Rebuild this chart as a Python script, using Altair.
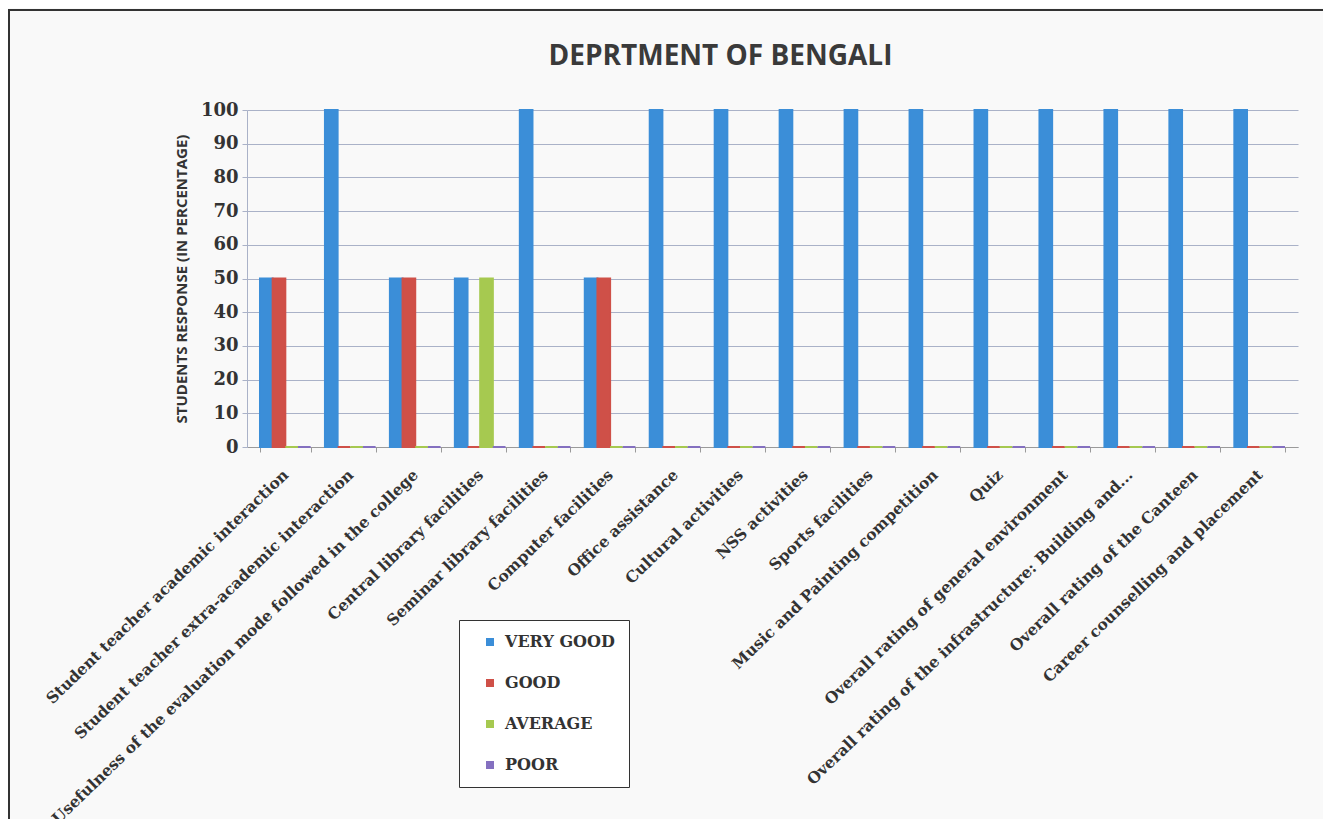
import altair as alt
import pandas as pd

categories = [
    "Student teacher academic interaction",
    "Student teacher extra-academic interaction",
    "Usefulness of the evaluation mode followed in the college",
    "Central library facilities",
    "Seminar library facilities",
    "Computer facilities",
    "Office assistance",
    "Cultural activities",
    "NSS activities",
    "Sports facilities",
    "Music and Painting competition",
    "Quiz",
    "Overall rating of general environment",
    "Overall rating of the infrastructure: Building and...",
    "Overall rating of the Canteen",
    "Career counselling and placement",
]
series = ["VERY GOOD", "GOOD", "AVERAGE", "POOR"]
very_good = [50, 100, 50, 50, 100, 50, 100, 100, 100, 100, 100, 100, 100, 100, 100, 100]
good = [50, 0, 50, 0, 0, 50, 0, 0, 0, 0, 0, 0, 0, 0, 0, 0]
average = [0, 0, 0, 50, 0, 0, 0, 0, 0, 0, 0, 0, 0, 0, 0, 0]
poor = [0, 0, 0, 0, 0, 0, 0, 0, 0, 0, 0, 0, 0, 0, 0, 0]
colors = ["#3b8ed8", "#cf5048", "#a6c950", "#8470c0"]

rows = []
for i, cat in enumerate(categories):
    for s, vals in zip(series, [very_good, good, average, poor]):
        rows.append({"category": cat, "series": s, "value": vals[i]})
df = pd.DataFrame(rows)

W, H = 1051, 337
PAD = {"left": 239, "top": 102, "right": 25, "bottom": 372}

bars = alt.Chart(df).mark_bar(strokeWidth=2).encode(
    x=alt.X(
        "category:N",
        sort=categories,
        scale=alt.Scale(paddingInner=0.22, paddingOuter=0.2),
        axis=alt.Axis(
            title=None,
            labelAngle=-44,
            labelAlign="right",
            labelBaseline="middle",
            labelFont="DejaVu Serif",
            labelFontWeight="bold",
            labelFontSize=15.5,
            labelColor="#333333",
            labelPadding=20,
            labelLimit=1000,
            labelOverlap=False,
            tickSize=5,
            tickBand="extent",
            tickColor="#9a9a9a",
            domainColor="#9a9a9a",
            grid=False,
        ),
    ),
    xOffset=alt.XOffset("series:N", sort=series, scale=alt.Scale(domain=series, paddingInner=0)),
    y=alt.Y(
        "value:Q",
        scale=alt.Scale(domain=[0, 100]),
        axis=alt.Axis(
            values=list(range(0, 101, 10)),
            title="STUDENTS RESPONSE (IN PERCENTAGE)",
            titleFont="Open Sans",
            titleFontSize=15,
            titleFontWeight="bold",
            titleColor="#333333",
            titlePadding=11,
            labelFont="DejaVu Serif",
            labelFontWeight="bold",
            labelFontSize=18,
            labelColor="#333333",
            labelPadding=4,
            tickSize=5,
            tickColor="#aab2c8",
            domainColor="#aab2c8",
            gridColor="#aab2c8",
        ),
    ),
    color=alt.Color(
        "series:N",
        sort=series,
        scale=alt.Scale(domain=series, range=colors),
        legend=alt.Legend(
            title=None,
            orient="none",
            legendX=212,
            legendY=510,
            fillColor="#ffffff",
            strokeColor="#333333",
            padding=14,
            symbolOffset=9,
            symbolType="square",
            symbolSize=64,
            symbolStrokeWidth=0,
            labelFont="DejaVu Serif",
            labelFontWeight="bold",
            labelFontSize=16,
            labelColor="#333333",
            labelOffset=7,
            rowPadding=25,
        ),
    ),
    stroke=alt.Stroke("series:N", sort=series, scale=alt.Scale(domain=series, range=colors), legend=None),
)

frame = alt.Chart(pd.DataFrame({"a": [0]})).mark_rect(
    fill="transparent", stroke="#333333", strokeWidth=2
).encode(
    x=alt.value(-238), x2=alt.value(1200), y=alt.value(-100), y2=alt.value(900)
)

chart = alt.layer(bars, frame).properties(
    width=W,
    height=H,
    padding=PAD,
    autosize=alt.AutoSizeParams(type="none"),
    background="#f9f9f9",
    title=alt.TitleParams(
        text="DEPRTMENT  OF BENGALI",
        font="Open Sans",
        fontSize=28,
        fontWeight="bold",
        color="#3a3a3a",
        anchor="middle",
        frame="group",
        dx=-52,
        offset=-62,
    ),
).configure_view(strokeWidth=0)

chart.save("out.html", embed_options={"renderer": "svg", "actions": False})
